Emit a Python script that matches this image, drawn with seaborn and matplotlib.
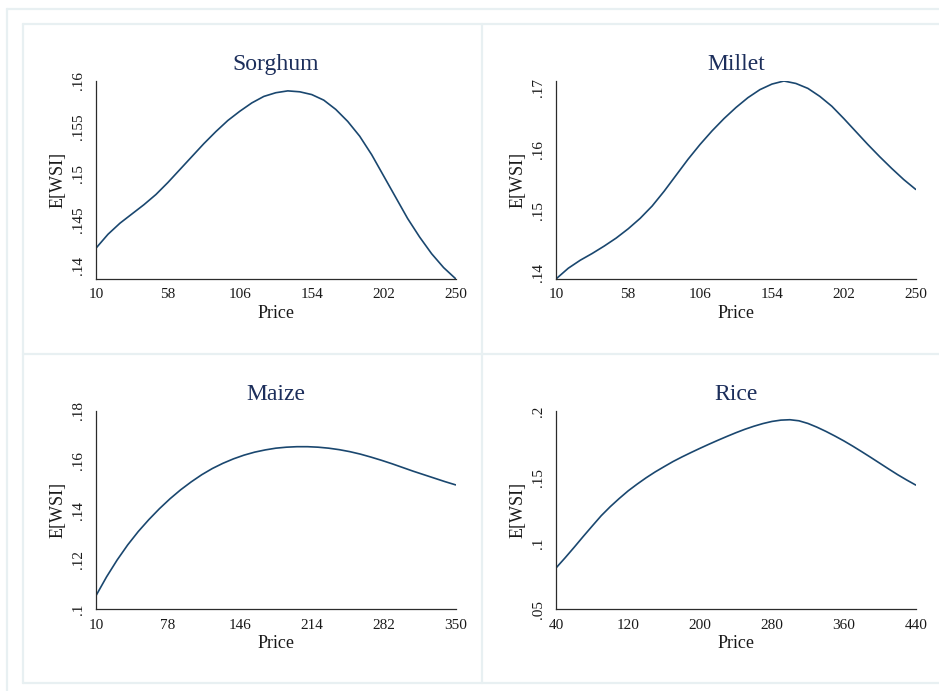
import matplotlib
matplotlib.use("Agg")
import matplotlib.pyplot as plt
from matplotlib.lines import Line2D
import pandas as pd
import seaborn as sns

# ---- data -------------------------------------------------------------
sorghum_price = [10, 18, 26, 34, 42, 50, 58, 66, 74, 82, 90, 98, 106, 114, 122,
                 130, 138, 146, 154, 162, 170, 178, 186, 194, 202, 210, 218,
                 226, 234, 242, 250]
sorghum_wsi = [0.1419, 0.1434, 0.1446, 0.1456, 0.1466, 0.1477, 0.1490, 0.1504,
               0.1518, 0.1532, 0.1545, 0.1557, 0.1567, 0.1576, 0.1583, 0.1587,
               0.1589, 0.1588, 0.1585, 0.1579, 0.1569, 0.1556, 0.1540, 0.1520,
               0.1497, 0.1474, 0.1451, 0.1431, 0.1413, 0.1398, 0.1386]

millet_price = [10, 18, 26, 34, 42, 50, 58, 66, 74, 82, 90, 98, 106, 114, 122,
                130, 138, 146, 154, 162, 170, 178, 186, 194, 202, 210, 218,
                226, 234, 242, 250]
millet_wsi = [0.1390, 0.1407, 0.1420, 0.1431, 0.1443, 0.1456, 0.1471, 0.1488,
              0.1508, 0.1532, 0.1558, 0.1584, 0.1608, 0.1630, 0.1650, 0.1668,
              0.1684, 0.1697, 0.1706, 0.1711, 0.1707, 0.1699, 0.1686, 0.1670,
              0.1650, 0.1629, 0.1608, 0.1588, 0.1569, 0.1551, 0.1535]

maize_price = [10, 20, 30, 40, 50, 60, 70, 80, 90, 100, 110, 120, 130, 140,
               150, 160, 170, 180, 190, 200, 210, 220, 230, 240, 250, 260, 270,
               280, 290, 300, 310, 320, 330, 340, 350]
maize_wsi = [0.1055, 0.1131, 0.1199, 0.1260, 0.1314, 0.1362, 0.1406, 0.1446,
             0.1482, 0.1514, 0.1543, 0.1568, 0.1589, 0.1607, 0.1622, 0.1634,
             0.1643, 0.1650, 0.1654, 0.1656, 0.1656, 0.1654, 0.1650, 0.1644,
             0.1636, 0.1626, 0.1614, 0.1601, 0.1587, 0.1572, 0.1557, 0.1543,
             0.1529, 0.1515, 0.1502]

rice_price = [40, 50, 60, 70, 80, 90, 100, 110, 120, 130, 140, 150, 160, 170,
              180, 190, 200, 210, 220, 230, 240, 250, 260, 270, 280, 290, 300,
              310, 320, 330, 340, 350, 360, 370, 380, 390, 400, 410, 420, 430,
              440]
rice_wsi = [0.0815, 0.0891, 0.0970, 0.1051, 0.1130, 0.1208, 0.1276, 0.1338,
            0.1396, 0.1447, 0.1495, 0.1539, 0.1579, 0.1618, 0.1653, 0.1686,
            0.1718, 0.1749, 0.1779, 0.1808, 0.1836, 0.1862, 0.1885, 0.1905,
            0.1921, 0.1931, 0.1934, 0.1926, 0.1906, 0.1878, 0.1846, 0.1811,
            0.1774, 0.1734, 0.1692, 0.1649, 0.1605, 0.1561, 0.1518, 0.1478,
            0.1440]

crops = ["Sorghum", "Millet", "Maize", "Rice"]

sorghum_xticks = [10, 58, 106, 154, 202, 250]
millet_xticks = [10, 58, 106, 154, 202, 250]
maize_xticks = [10, 78, 146, 214, 282, 350]
rice_xticks = [40, 120, 200, 280, 360, 440]

sorghum_yticks = [0.14, 0.145, 0.15, 0.155, 0.16]
sorghum_ylabels = [".14", ".145", ".15", ".155", ".16"]
millet_yticks = [0.14, 0.15, 0.16, 0.17]
millet_ylabels = [".14", ".15", ".16", ".17"]
maize_yticks = [0.10, 0.12, 0.14, 0.16, 0.18]
maize_ylabels = [".1", ".12", ".14", ".16", ".18"]
rice_yticks = [0.05, 0.10, 0.15, 0.20]
rice_ylabels = [".05", ".1", ".15", ".2"]

# ---- style ------------------------------------------------------------
sns.set_theme(style="white")
plt.rcParams["font.family"] = ["Liberation Serif", "DejaVu Serif"]

W, H = 939, 691
fig = plt.figure(figsize=(W / 100, H / 100), dpi=100)
fig.patch.set_facecolor("white")

LINE = "#1a476f"
TITLE = "#1c2e5b"
FRAME = "#e8f0f2"


def px_axes(left, top, right, bottom):
    return fig.add_axes([left / W, 1 - bottom / H, (right - left) / W, (bottom - top) / H])


# frame lines of the combined graph
def hline(y, x0, x1):
    fig.add_artist(Line2D([x0 / W, x1 / W], [1 - y / H, 1 - y / H],
                          transform=fig.transFigure, color=FRAME, lw=1.6))


def vline(x, y0, y1):
    fig.add_artist(Line2D([x / W, x / W], [1 - y0 / H, 1 - y1 / H],
                          transform=fig.transFigure, color=FRAME, lw=1.6))


hline(8.7, 7, W)
vline(7, 8.7, H)
hline(24, 22.7, W)
vline(22.7, 24, 682.7)
hline(682.7, 22.7, W)
hline(353.7, 22.7, W)
vline(481.7, 24, 682.7)

panels = [
    (crops[0], sorghum_price, sorghum_wsi, sorghum_xticks, sorghum_yticks, sorghum_ylabels,
     (96, 80.7, 455.6, 278.7), (0.16, None)),
    (crops[1], millet_price, millet_wsi, millet_xticks, millet_yticks, millet_ylabels,
     (556.3, 81, 915.7, 278.7), (None, None)),
    (crops[2], maize_price, maize_wsi, maize_xticks, maize_yticks, maize_ylabels,
     (96, 411, 455.6, 609.3), (0.18, 0.10)),
    (crops[3], rice_price, rice_wsi, rice_xticks, rice_yticks, rice_ylabels,
     (556.3, 411, 915.7, 609.3), (0.20, 0.05)),
]

for name, price, wsi, xt, yt, yl, box, (ytop, ybot) in panels:
    ax = px_axes(*box)
    df = pd.DataFrame({"Price": price, "E[WSI]": wsi})
    sns.lineplot(data=df, x="Price", y="E[WSI]", ax=ax, color=LINE, lw=1.2)

    lo = min(min(wsi), ybot) if ybot is not None else min(wsi)
    hi = max(max(wsi), ytop) if ytop is not None else max(wsi)
    ax.set_ylim(lo, hi)
    ax.set_xlim(xt[0], xt[-1])

    ax.set_xticks(xt)
    ax.set_xticklabels([str(v) for v in xt])
    ax.set_yticks(yt)
    ax.set_yticklabels(yl, rotation=90, va="center")

    for side in ("top", "right"):
        ax.spines[side].set_visible(False)
    for side in ("left", "bottom"):
        ax.spines[side].set_color("#2b2b2b")
        ax.spines[side].set_linewidth(0.9)
    ax.tick_params(axis="both", which="major", direction="out", length=5,
                   width=0.8, color="#2b2b2b", labelsize=11, labelcolor="#1a1a1a")
    ax.tick_params(axis="x", pad=2)
    ax.tick_params(axis="y", pad=3)

    ax.set_xlabel("Price", fontsize=13, color="#1a1a1a", labelpad=2.5)
    ax.set_ylabel("E[WSI]", fontsize=13, color="#1a1a1a", labelpad=4)
    ax.set_title(name, fontsize=17, color=TITLE, pad=8)
    ax.set_facecolor("white")
    ax.grid(False)

fig.savefig("out.png", dpi=100, facecolor="white")
